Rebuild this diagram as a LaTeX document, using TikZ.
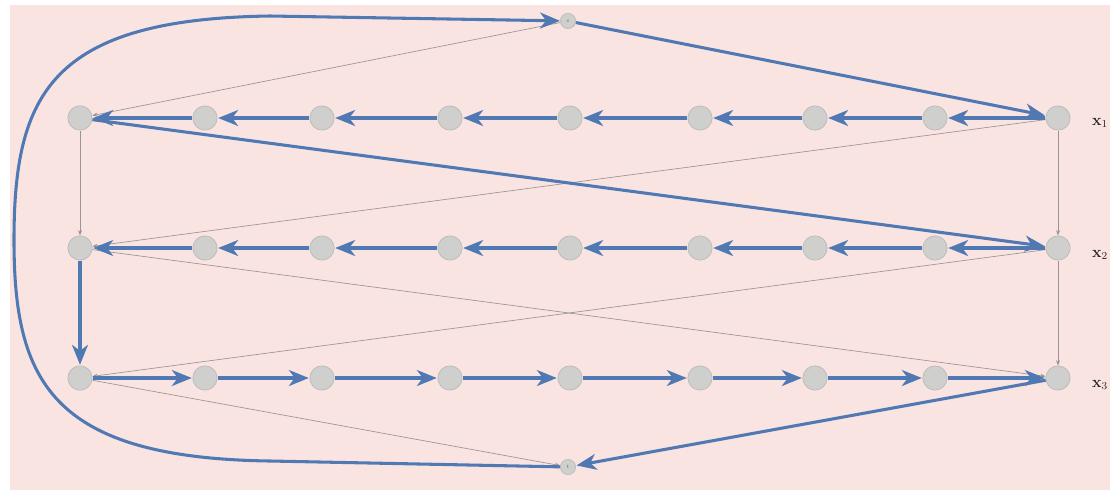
\documentclass[tikz,border=0pt]{standalone}
\usetikzlibrary{arrows.meta}
\definecolor{bgpink}{HTML}{FAE4E2}
\definecolor{flowblue}{HTML}{5079B3}
\definecolor{nodefill}{HTML}{CFCFCD}
\definecolor{nodeline}{HTML}{BDBDBB}
\definecolor{thingray}{HTML}{9A9494}
\begin{document}
\begin{tikzpicture}[x=0.0264cm,y=-0.0264cm,
  vtx/.style={circle,fill=nodefill,draw=nodeline,line width=0.6pt,minimum size=0.64cm,inner sep=0pt},
  svtx/.style={circle,fill=nodefill,draw=nodeline,line width=0.6pt,minimum size=0.4cm,inner sep=0pt,font=\fontsize{4}{4}\selectfont,text=black!60},
  flow/.style={draw=flowblue,line width=2.3pt,-{Stealth[length=15pt,width=12pt,inset=4.5pt]},shorten >=0.5pt},
  loopflow/.style={draw=flowblue,line width=2.3pt,-{Stealth[length=15pt,width=12pt,inset=4.5pt]}},
  thin/.style={draw=thingray,line width=0.5pt,-{Stealth[length=4pt,width=3pt]}},
  lbl/.style={font=\bfseries\large,text=black!85}]
\useasboundingbox (0,0) rectangle (1110,490);
\fill[white] (0,0) rectangle (1110,490);
\fill[bgpink] (10,5) rectangle (1110,490);

% grid of vertices: three rows, nine columns
\foreach \r/\y in {1/118,2/248,3/378}{
  \foreach \c/\x in {1/80,2/205,3/322,4/450,5/570,6/700,7/815,8/935,9/1058}{
    \node[vtx] (v\r\c) at (\x,\y) {};
  }
}
\node[svtx] (s) at (568,21) {s};
\node[svtx] (t) at (568,467) {t};

\node[lbl] (l1) at (1100,123) {x$_1$};
\node[lbl] (l2) at (1100,255) {x$_2$};
\node[lbl] (l3) at (1100,385) {x$_3$};

% thin side edges
\draw[thin] (s) -- (v11);
\draw[thin] (v19) -- (v21);
\draw[thin] (v21) -- (v39);
\draw[thin] (v29) -- (v31);
\draw[thin] (v31) -- (t);
\draw[thin] (v11) -- (v21);
\draw[thin] (v19) -- (v29);
\draw[thin] (v29) -- (v39);

% rows one and two run right to left
\foreach \r in {1,2}{
  \foreach \a/\b in {9/8,8/7,7/6,6/5,5/4,4/3,3/2,2/1}{
    \draw[flow] (v\r\a) -- (v\r\b);
  }
}
% row three runs left to right
\foreach \a/\b in {1/2,2/3,3/4,4/5,5/6,6/7,7/8,8/9}{
  \draw[flow] (v3\a) -- (v3\b);
}

% thick path through the layers
\draw[flow] (s) -- (v19);
\draw[flow] (v11) -- (v29);
\draw[flow] (v21) -- (v31);
\draw[flow] (v39) -- (t);

% return loop from t back to s
\coordinate (lb) at (270,461);
\coordinate (lt) at (270,16);
\draw[loopflow] (t) -- (lb) .. controls (50,458) and (14,380) .. (14,240)
  .. controls (14,95) and (50,19) .. (lt) -- (s);
\end{tikzpicture}
\end{document}
